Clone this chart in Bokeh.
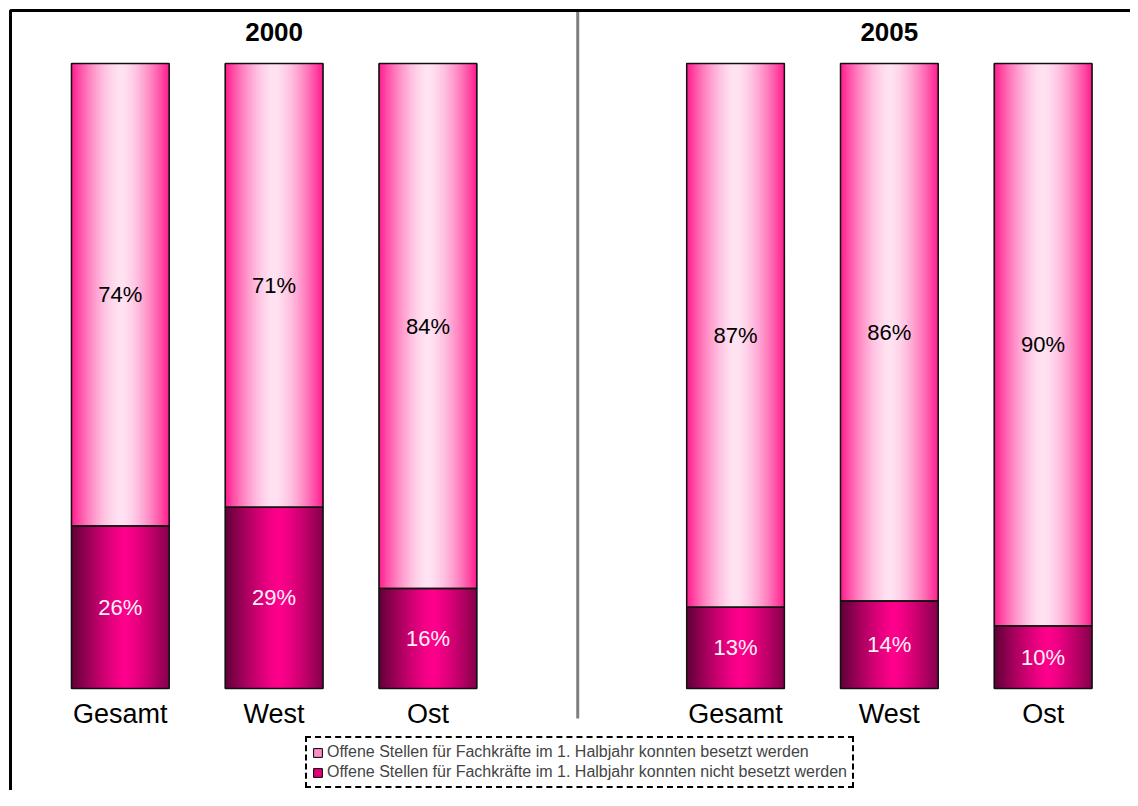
from bokeh.plotting import figure
from bokeh.models import (Range1d, ColumnDataSource, Legend, LegendItem, BoxAnnotation)
from bokeh.core.properties import value
from bokeh.embed import file_html
from bokeh.resources import INLINE

# ---- data ----
categories = ["Gesamt", "West", "Ost"]
years = ["2000", "2005"]
besetzt_2000 = [74, 71, 84]
nicht_2000 = [26, 29, 16]
besetzt_2005 = [87, 86, 90]
nicht_2005 = [13, 14, 10]
legend_labels = [
    "Offene Stellen für Fachkräfte im 1. Halbjahr konnten besetzt werden",
    "Offene Stellen für Fachkräfte im 1. Halbjahr konnten nicht besetzt werden",
]

FONT = value("Liberation Sans")
W, H = 1130, 790

# layout positions (categories at 0,1,2 and 4,5,6)
xpos = [0, 1, 2, 4, 5, 6]
cats = categories + categories
besetzt = besetzt_2000 + besetzt_2005
nicht = nicht_2000 + nicht_2005
bar_w = 0.635

p = figure(width=W, height=H, output_backend="svg", toolbar_location=None,
           x_range=Range1d(-0.779, 6.568), y_range=Range1d(-16.32, 110.08),
           min_border=0, min_border_left=0, min_border_right=0,
           min_border_top=0, min_border_bottom=0)
p.xaxis.visible = False
p.yaxis.visible = False
p.xgrid.visible = False
p.ygrid.visible = False
p.outline_line_color = None
p.background_fill_color = "white"
p.border_fill_color = "white"


def lerp(c1, c2, t):
    return "#%02x%02x%02x" % tuple(int(round(a + (b - a) * t)) for a, b in zip(c1, c2))


def hexrgb(h):
    h = h.lstrip("#")
    return tuple(int(h[i:i + 2], 16) for i in (0, 2, 4))


light_edge, light_center = hexrgb("#ff1a8c"), hexrgb("#ffe3f2")
dark_edge, dark_center = hexrgb("#5e0036"), hexrgb("#ff008c")

# base bars (for legend)
src = ColumnDataSource(dict(x=xpos, nicht=nicht, total=[n + b for n, b in zip(nicht, besetzt)],
                            zero=[0] * 6))
base_light = p.vbar(x="x", width=bar_w, bottom="nicht", top="total", source=src,
                    fill_color="#ff8cc6", line_color="black", line_width=1)
base_dark = p.vbar(x="x", width=bar_w, bottom="zero", top="nicht", source=src,
                   fill_color="#e0007a", line_color="black", line_width=1)

# gradient strips
N = 48
L, R, B, T, C = [], [], [], [], []
for x, n, b in zip(xpos, nicht, besetzt):
    x0 = x - bar_w / 2
    dw = bar_w / N
    for i in range(N):
        u = (i + 0.5) / N
        tl = min(1.0, abs(u - 0.5) * 2) ** 1.6
        td = min(1.0, abs(u - 0.55) / 0.55) ** 1.3
        right = x0 + (i + 1) * dw + (dw * 0.3 if i < N - 1 else 0)
        # light (upper)
        L.append(x0 + i * dw); R.append(right)
        B.append(n); T.append(n + b); C.append(lerp(light_center, light_edge, tl))
        # dark (lower)
        L.append(x0 + i * dw); R.append(right)
        B.append(0); T.append(n); C.append(lerp(dark_center, dark_edge, td))
strip_src = ColumnDataSource(dict(left=L, right=R, bottom=B, top=T, color=C))
p.quad(left="left", right="right", bottom="bottom", top="top", source=strip_src,
       fill_color="color", line_color=None)

# outlines
p.vbar(x="x", width=bar_w, bottom="nicht", top="total", source=src,
       fill_color=None, line_color="#111111", line_width=1.5)
p.vbar(x="x", width=bar_w, bottom="zero", top="nicht", source=src,
       fill_color=None, line_color="#111111", line_width=1.5)

# value labels
p.text(x=xpos, y=[n + b / 2 for n, b in zip(nicht, besetzt)], text=[f"{b}%" for b in besetzt],
       text_align="center", text_baseline="middle", text_font=FONT,
       text_font_size="22px", text_color="black")
p.text(x=xpos, y=[n / 2 for n in nicht], text=[f"{n}%" for n in nicht],
       text_align="center", text_baseline="middle", text_font=FONT,
       text_font_size="22px", text_color="#fff0f8")

# category labels
p.text(x=xpos, y=[-4.0] * 6, text=cats, text_align="center", text_baseline="middle",
       text_font=FONT, text_font_size="27px", text_color="black")

# year titles
p.text(x=[1, 5], y=[105.1, 105.1], text=years, text_align="center", text_baseline="middle",
       text_font=FONT, text_font_size="26px", text_font_style="bold", text_color="black")

# divider
p.segment(x0=[2.974], y0=[-4.8], x1=[2.974], y1=[108.48], line_color="#808080", line_width=3)

# frame
p.add_layout(BoxAnnotation(left=-0.714, top=108.48, right=20, bottom=-100,
                           fill_color=None, fill_alpha=0, line_color="black",
                           line_alpha=1.0, line_width=3))

legend = Legend(items=[LegendItem(label=legend_labels[0], renderers=[base_light]),
                       LegendItem(label=legend_labels[1], renderers=[base_dark])],
                location=(305, 2), orientation="vertical",
                label_text_font="Liberation Sans", label_text_font_size="16px",
                label_height=16, glyph_height=11, glyph_width=11, label_standoff=4,
                spacing=2, padding=5, margin=0,
                border_line_color="black", border_line_alpha=1.0, border_line_width=2,
                border_line_dash="4 3",
                background_fill_color="white", background_fill_alpha=1.0)
p.add_layout(legend, "center")

open("out.html", "w").write(file_html(p, INLINE))
